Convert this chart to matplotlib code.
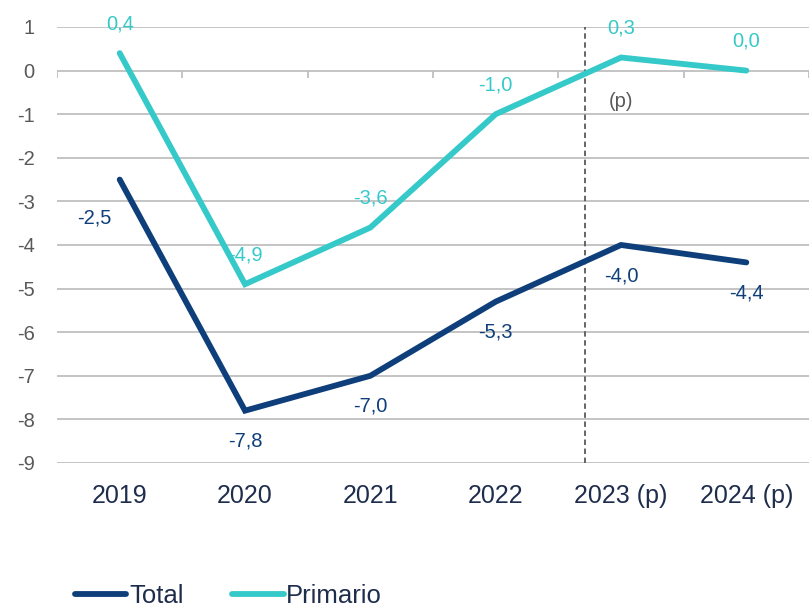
#!/usr/bin/env python3

import numpy as np
import matplotlib
matplotlib.use("Agg")
import matplotlib.pyplot as plt

plt.rcParams["font.family"] = ["Liberation Sans", "DejaVu Sans"]

# ---------------------------------------------------------
# Data
# ---------------------------------------------------------
years = ["2019", "2020", "2021", "2022", "2023 (p)", "2024 (p)"]
total = [-2.5, -7.8, -7.0, -5.3, -4.0, -4.4]
primario = [0.4, -4.9, -3.6, -1.0, 0.3, 0.0]
total_labels = ["-2,5", "-7,8", "-7,0", "-5,3", "-4,0", "-4,4"]
primario_labels = ["0,4", "-4,9", "-3,6", "-1,0", "0,3", "0,0"]
y_ticks = list(range(1, -10, -1))

C_TOTAL = "#0E3F7A"
C_PRIM = "#36C9C9"
C_GRID = "#BFBFBF"
C_GRAY = "#595959"
C_XLAB = "#1F2D4D"

x = np.arange(len(years))

fig = plt.figure(figsize=(8.09, 6.12), dpi=100)
ax = fig.add_axes([0.0705, 0.2435, 0.9295, 0.7124])

# gridlines + zero line with small ticks at category boundaries
for yv in y_ticks:
    ax.axhline(yv, color=C_GRID, linewidth=1.3, zorder=1)
bounds = np.arange(len(years) + 1) - 0.5
ax.vlines(bounds, -0.16, 0, color=C_GRID, linewidth=1.3, zorder=1)

# forecast separator
ax.axvline(3.71, color=C_GRAY, linestyle=(0, (3, 2)), linewidth=1.3, zorder=2)
ax.text(4.0, -0.72, "(p)", color=C_GRAY, fontsize=14.5, ha="center", va="center")

ax.plot(x, total, color=C_TOTAL, linewidth=4.2, solid_capstyle="round",
        solid_joinstyle="miter", label="Total", zorder=3)
ax.plot(x, primario, color=C_PRIM, linewidth=4.2, solid_capstyle="round",
        solid_joinstyle="miter", label="Primario", zorder=3)

# data labels
for i, (v, s) in enumerate(zip(primario, primario_labels)):
    ax.annotate(s, (i, v), xytext=(0, 21), textcoords="offset points",
                ha="center", va="center", color=C_PRIM, fontsize=14.5)
for i, (v, s) in enumerate(zip(total, total_labels)):
    off = (-18, -28) if i == 0 else (0, -22)
    ax.annotate(s, (i, v), xytext=off, textcoords="offset points",
                ha="center", va="center", color=C_TOTAL, fontsize=14.5)

ax.set_xlim(-0.5, len(years) - 0.5)
ax.set_ylim(-9, 1)
ax.set_yticks(y_ticks)
ax.set_yticklabels([str(t) for t in y_ticks])
ax.set_xticks(x)
ax.set_xticklabels(years)
ax.tick_params(axis="y", length=0, pad=16, labelsize=14.5, labelcolor=C_GRAY)
ax.tick_params(axis="x", length=0, pad=15, labelsize=18, labelcolor=C_XLAB)
for sp in ax.spines.values():
    sp.set_visible(False)

fig.legend(loc="center left", bbox_to_anchor=(0.0927, 0.026), ncol=2,
           frameon=False, fontsize=18.5, handlelength=2.0, handletextpad=0.1,
           columnspacing=1.9, borderpad=0, borderaxespad=0, labelcolor=C_XLAB)

fig.savefig("out.png", dpi=100)
plt.close()
